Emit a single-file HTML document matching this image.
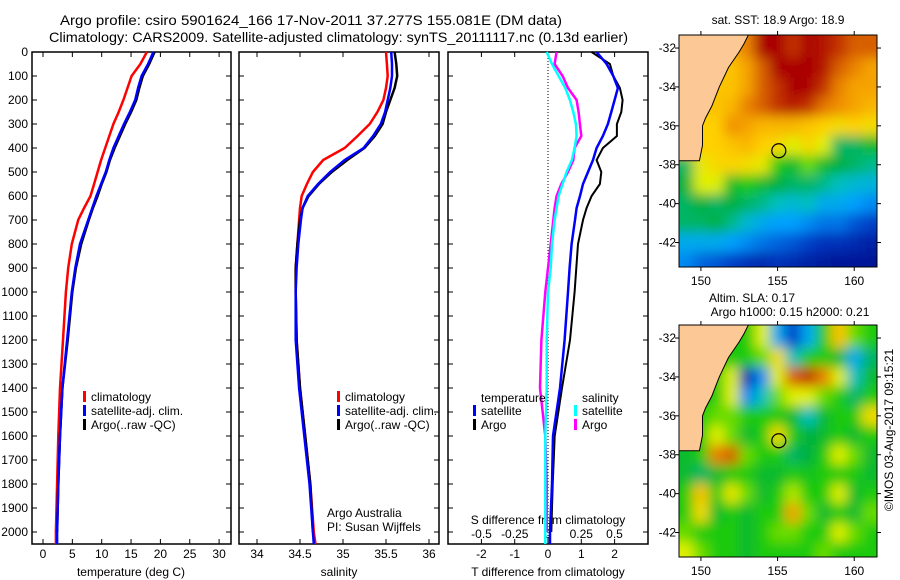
<!DOCTYPE html>
<html><head><meta charset="utf-8"><style>
html,body{margin:0;padding:0;background:#fff;}
svg{display:block;font-family:"Liberation Sans",sans-serif;font-size:12px;}
</style></head><body>
<svg id="chart" width="900" height="580" viewBox="0 0 900 580" xmlns="http://www.w3.org/2000/svg">
<text x="60" y="25" font-size="14" textLength="502" lengthAdjust="spacingAndGlyphs">Argo profile: csiro 5901624_166 17-Nov-2011 37.277S 155.081E (DM data)</text>
<text x="49" y="42" font-size="14" textLength="579" lengthAdjust="spacingAndGlyphs">Climatology: CARS2009. Satellite-adjusted climatology: synTS_20111117.nc (0.13d earlier)</text>
<text x="778" y="24" text-anchor="middle">sat. SST: 18.9 Argo: 18.9</text>
<text x="752" y="302" text-anchor="middle">Altim. SLA: 0.17</text>
<text x="790" y="316" text-anchor="middle">Argo h1000: 0.15 h2000: 0.21</text>
<text transform="translate(893,430) rotate(-90)" text-anchor="middle">©IMOS 03-Aug-2017 09:15:21</text>
<g id="g"></g>
</svg>
<script>
// ---- profile data ----
const depths = [0,50,100,150,200,250,300,350,400,450,500,550,600,650,700,800,900,1000,1200,1400,1600,1800,2000,2050];
const climT = [17.7,16.6,15.1,14.4,13.7,12.9,12.0,11.3,10.6,9.9,9.3,8.7,8.1,7.0,6.0,4.9,4.3,3.9,3.4,2.9,2.6,2.4,2.2,2.2];
const satT  = [18.8,17.9,16.8,16.2,15.7,14.8,13.8,12.9,12.0,11.3,10.7,9.9,9.1,8.4,7.7,6.3,5.5,4.9,4.1,3.3,2.9,2.6,2.4,2.4];
const argoT = [19.0,18.1,17.0,16.4,15.9,15.0,14.0,13.1,12.2,11.4,10.8,10.0,9.3,8.5,7.8,6.5,5.6,5.0,4.2,3.3,2.9,2.6,2.4];
const climS = [35.50,35.51,35.52,35.50,35.47,35.40,35.31,35.17,35.02,34.77,34.65,34.58,34.52,34.50,34.49,34.47,34.45,34.45,34.46,34.50,34.56,34.62,34.66,34.68];
const satS  = [35.56,35.57,35.57,35.55,35.52,35.49,35.44,35.35,35.24,35.02,34.85,34.71,34.59,34.53,34.51,34.48,34.46,34.45,34.45,34.49,34.55,34.61,34.65,34.66];
const argoS = [35.60,35.62,35.63,35.60,35.55,35.50,35.46,35.37,35.25,35.05,34.87,34.72,34.60,34.53,34.50,34.47,34.45,34.45,34.46,34.50,34.56,34.62,34.65];
const dTsat  = [1.46,1.76,1.96,2.1,2.0,1.9,1.8,1.65,1.46,1.35,1.2,1.05,0.96,0.86,0.81,0.71,0.65,0.6,0.5,0.36,0.15,0.12,0.06,0.06];
const dTargo = [1.31,1.86,1.96,2.16,2.24,2.2,2.07,2.07,1.65,1.46,1.6,1.56,1.31,1.16,1.05,0.9,0.85,0.8,0.66,0.42,0.2,0.14,0.1];
const dSsat  = [-0.01,0.03,0.08,0.13,0.165,0.19,0.21,0.215,0.2,0.18,0.14,0.11,0.08,0.065,0.05,0.03,0.02,0.0,-0.01,-0.01,-0.02,-0.02,-0.02,-0.02];
const dSargo = [0.065,0.05,0.11,0.15,0.215,0.23,0.24,0.25,0.2,0.19,0.15,0.1,0.065,0.05,0.04,0.02,0.0,-0.02,-0.05,-0.06,-0.02,-0.01,-0.01];
const depthTicks = [0,100,200,300,400,500,600,700,800,900,1000,1100,1200,1300,1400,1500,1600,1700,1800,1900,2000];
const tTicks = [0,5,10,15,20,25,30];
const sTicks = [34,34.5,35,35.5,36];
const dTTicks = [-2,-1,0,1,2];
const dSTicks = [-0.5,-0.25,0,0.25,0.5];
const dSTickLabels = ["-0.5","-0.25","0","0.25","0.5"];
// ---- map data (1-degree cells, lon 149..161, lat -32..-43; null = land) ----
const mapLons = [149,150,151,152,153,154,155,156,157,158,159,160,161];
const mapLats = [-32,-33,-34,-35,-36,-37,-38,-39,-40,-41,-42,-43];
const sstGrid = [
[null,null,null,0.75,0.8,0.95,0.95,0.9,0.95,0.93,0.9,0.85,0.85],
[null,null,null,0.7,0.75,0.85,0.95,0.95,0.95,0.93,0.85,0.8,0.75],
[null,null,0.7,0.7,0.75,0.85,0.9,0.95,0.95,0.9,0.8,0.75,0.75],
[null,0.7,0.7,0.72,0.8,0.85,0.9,0.92,0.9,0.82,0.78,0.75,0.72],
[null,0.68,0.68,0.78,0.75,0.72,0.72,0.72,0.7,0.68,0.65,0.68,0.65],
[null,0.68,0.68,0.7,0.72,0.68,0.66,0.6,0.66,0.6,0.4,0.4,0.45],
[0.4,0.62,0.66,0.67,0.65,0.62,0.5,0.45,0.55,0.45,0.42,0.4,0.38],
[0.42,0.6,0.6,0.45,0.5,0.45,0.42,0.4,0.4,0.38,0.35,0.33,0.32],
[0.4,0.42,0.4,0.42,0.4,0.38,0.35,0.33,0.35,0.3,0.3,0.28,0.25],
[0.4,0.4,0.42,0.38,0.33,0.3,0.28,0.28,0.25,0.22,0.22,0.18,0.15],
[0.3,0.3,0.3,0.28,0.25,0.22,0.2,0.18,0.15,0.12,0.12,0.1,0.08],
[0.25,0.2,0.18,0.15,0.12,0.1,0.12,0.1,0.08,0.06,0.05,0.05,0.05]];
const slaGrid = [
[null,null,null,0.5,0.5,0.6,0.3,0.15,0.3,0.5,0.7,0.55,0.5],
[null,null,null,0.5,0.5,0.55,0.65,0.35,0.5,0.5,0.45,0.3,0.4],
[null,null,0.5,0.6,0.1,0.25,0.6,0.85,0.9,0.8,0.6,0.35,0.45],
[null,0.5,0.5,0.6,0.25,0.35,0.55,0.6,0.6,0.55,0.5,0.4,0.5],
[null,0.5,0.55,0.55,0.5,0.5,0.5,0.45,0.35,0.45,0.5,0.5,0.65],
[null,0.5,0.6,0.55,0.45,0.5,0.65,0.5,0.42,0.45,0.5,0.45,0.5],
[0.45,0.5,0.8,0.85,0.55,0.5,0.5,0.4,0.42,0.5,0.6,0.55,0.45],
[0.45,0.4,0.45,0.5,0.5,0.45,0.45,0.5,0.48,0.5,0.5,0.5,0.45],
[0.5,0.7,0.5,0.62,0.55,0.45,0.5,0.58,0.5,0.5,0.6,0.45,0.5],
[0.5,0.65,0.45,0.5,0.45,0.5,0.5,0.75,0.55,0.45,0.5,0.45,0.55],
[0.55,0.5,0.5,0.5,0.45,0.5,0.55,0.55,0.5,0.5,0.6,0.55,0.5],
[0.6,0.55,0.5,0.5,0.45,0.5,0.5,0.5,0.5,0.55,0.5,0.5,0.5]];
const coastLon = [148.57,153.1,152.8,152.5,151.8,151.2,150.7,150.3,150.1,150.1,149.9,148.57];
const coastLat = [-31.33,-31.33,-31.8,-32.2,-33,-34,-35,-35.6,-36,-37,-37.8,-37.8];
const argoLon = 155.08, argoLat = -37.28;
const latTicks = [-32,-34,-36,-38,-40,-42];
const lonTicks = [150,155,160];

const NS='http://www.w3.org/2000/svg';
const G=document.getElementById('g');
function mk(tag,attrs,parent){const e=document.createElementNS(NS,tag);for(const k in attrs)e.setAttribute(k,attrs[k]);(parent||G).appendChild(e);return e;}
function txt(s,x,y,anchor,parent){const t=mk('text',{x:x,y:y,'text-anchor':anchor||'start'},parent);t.textContent=s;return t;}

const Y0=52, YB=544;
const yD=d=>Y0+d*0.24;

function panel(name,x0,x1){
  const g=mk('g',{});
  
  
  const r=mk('rect',{x:x0,y:Y0,width:x1-x0,height:YB-Y0,fill:'none',stroke:'#000','stroke-width':1.5},g);
  
  
  depthTicks.forEach(d=>{mk('line',{x1:x0,x2:x0+5,y1:yD(d),y2:yD(d),stroke:'#000'},g);mk('line',{x1:x1-5,x2:x1,y1:yD(d),y2:yD(d),stroke:'#000'},g);});
  return g;
}
function line(g,name,xs,ds,xf,color,w){
  const pts=xs.map((v,i)=>xf(v).toFixed(1)+','+yD(ds[i]).toFixed(1)).join(' ');
  const p=mk('polyline',{points:pts,fill:'none',stroke:color,'stroke-width':w||2},g);
  
  
}
function xticks(g,ticks,labels,xf,ylab,top){
  ticks.forEach((t,i)=>{const x=xf(t);mk('line',{x1:x,x2:x,y1:YB-5,y2:YB,stroke:'#000'},g);if(top)mk('line',{x1:x,x2:x,y1:Y0,y2:Y0+5,stroke:'#000'},g);
    const tl=txt(labels[i],x,ylab,'middle',g);
    
    });
}
function legend(g,x,y,items){
  items.forEach((it,i)=>{mk('rect',{x:x,y:y+i*14-6,width:3,height:11,fill:it[1]},g);
    const t=txt(it[0],x+8,y+i*14+4,'start',g);
    
    });
}

// Panel 1 temperature
const xT=v=>43+v*5.87;
const p1=panel('temperature-panel',32,231);
depthTicks.forEach(d=>{const t=txt(String(d),28,yD(d)+4,'end',p1);});
xticks(p1,tTicks,tTicks.map(String),xT,558,true);
txt('temperature (deg C)',131,576,'middle',p1);
line(p1,'temp-climatology',climT,depths,xT,'#ff0000',2.5);
line(p1,'temp-argo',argoT,depths,xT,'#000',2.5);
line(p1,'temp-satellite',satT,depths,xT,'#0000ff',2.5);
legend(p1,83,397,[['climatology','#ff0000'],['satellite-adj. clim.','#0000ff'],['Argo(..raw -QC)','#000']]);

// Panel 2 salinity
const xS=v=>257+(v-34)*86;
const p2=panel('salinity-panel',239,439);
xticks(p2,sTicks,sTicks.map(String),xS,558,true);
txt('salinity',339,576,'middle',p2);
line(p2,'sal-climatology',climS,depths,xS,'#ff0000',2.5);
line(p2,'sal-argo',argoS,depths,xS,'#000',2.5);
line(p2,'sal-satellite',satS,depths,xS,'#0000ff',2.5);
legend(p2,337,397,[['climatology','#ff0000'],['satellite-adj. clim.','#0000ff'],['Argo(..raw -QC)','#000']]);
txt('Argo Australia',327,517,'start',p2);
txt('PI: Susan Wijffels',327,531,'start',p2);

// Panel 3 differences
const xDT=v=>548+v*33.3;
const xDS=v=>548+v*133;
const p3=panel('difference-panel',448,648);
mk('line',{x1:548,x2:548,y1:Y0,y2:YB,stroke:'#000','stroke-dasharray':'1,2'},p3);
xticks(p3,dTTicks,dTTicks.map(String),xDT,558,true);
dSTicks.forEach((t,i)=>{const l=txt(dSTickLabels[i],xDS(t),538,'middle',p3);});
txt('S difference from climatology',548,524,'middle',p3);
txt('T difference from climatology',548,576,'middle',p3);
line(p3,'ds-argo',dSargo,depths,xDS,'#ff00ff',2.5);
line(p3,'ds-satellite',dSsat,depths,xDS,'#00ffff',2.5);
line(p3,'dt-argo',dTargo,depths,xDT,'#000',2);
line(p3,'dt-satellite',dTsat,depths,xDT,'#0000ff',2.5);
txt('temperature',481,402,'start',p3);
legend(p3,473,411,[['satellite','#0000ff'],['Argo','#000']]);
txt('salinity',582,402,'start',p3);
legend(p3,574,411,[['satellite','#00ffff'],['Argo','#ff00ff']]);

// ---- maps ----
const stops=[[0,[0,0,128]],[0.15,[0,64,200]],[0.28,[0,160,255]],[0.35,[0,192,192]],[0.42,[0,176,64]],[0.52,[32,208,0]],[0.6,[224,240,0]],[0.68,[255,208,0]],[0.78,[240,144,0]],[0.87,[208,80,0]],[0.95,[170,0,0]],[1,[150,0,0]]];
function cmap(v){for(let i=1;i<stops.length;i++){if(v<=stops[i][0]){const a=stops[i-1],b=stops[i],f=(v-a[0])/(b[0]-a[0]);const c=a[1].map((x,k)=>Math.round(x+(b[1][k]-x)*f));return 'rgb('+c.join(',')+')';}}return 'rgb(150,0,0)';}
function map(name,top,grid){
  const x0=679,x1=877,y1=top+232;
  const X=lon=>679+(lon-148.57)*15.33;
  const Y=lat=>top+(-31.33-lat)*19.45;
  const g=mk('g',{});
  
  
  const cid='clip-'+name;
  const cp=mk('clipPath',{id:cid},g);mk('rect',{x:x0,y:top,width:x1-x0,height:y1-top},cp);
  const fid='blur-'+name;
  const f=mk('filter',{id:fid,x:'-10%',y:'-10%',width:'120%',height:'120%'},g);mk('feGaussianBlur',{stdDeviation:6},f);
  const inner=mk('g',{'clip-path':'url(#'+cid+')'},g);
  const cells=mk('g',{filter:'url(#'+fid+')'},inner);
  mapLats.forEach((lat,r)=>mapLons.forEach((lon,c)=>{
    let v=grid[r][c]; if(v===null){v=grid[r].find(q=>q!==null);}
    const ya=Y(lat+0.5+(r===0?1:0)), yb=Y(lat-0.5-(r===mapLats.length-1?1:0));
    const xa=X(lon-0.5-(c===0?1:0)), xb=X(lon+0.5+(c===mapLons.length-1?1:0));
    const cell=mk('rect',{x:xa.toFixed(1),y:ya.toFixed(1),width:(xb-xa+0.6).toFixed(1),height:(yb-ya+0.6).toFixed(1),fill:cmap(v)},cells);
    
    
  }));
  const land=mk('polygon',{points:coastLon.map((lo,i)=>X(lo).toFixed(1)+','+Y(coastLat[i]).toFixed(1)).join(' '),fill:'#fcc896',stroke:'#000','stroke-width':1},inner);
  
  
  const ring=mk('circle',{cx:X(argoLon),cy:Y(argoLat),r:7,fill:'none',stroke:'#000','stroke-width':1.2},g);
  
  
  mk('rect',{x:x0,y:top,width:x1-x0,height:y1-top,fill:'none',stroke:'#000','stroke-width':1},g);
  latTicks.forEach(l=>{const y=Y(l);mk('line',{x1:x0,x2:x0-4,y1:y,y2:y,stroke:'#000'},g);mk('line',{x1:x1,x2:x1+4,y1:y,y2:y,stroke:'#000'},g);
    const t=txt(String(l),676,y+4,'end',g);});
  lonTicks.forEach(l=>{const x=X(l);mk('line',{x1:x,x2:x,y1:y1,y2:y1+4,stroke:'#000'},g);mk('line',{x1:x,x2:x,y1:top,y2:top-4,stroke:'#000'},g);
    const t=txt(String(l),x,y1+18,'middle',g);});
}
map('sst-map',35,sstGrid);
map('sla-map',325,slaGrid);
</script>
</body></html>
